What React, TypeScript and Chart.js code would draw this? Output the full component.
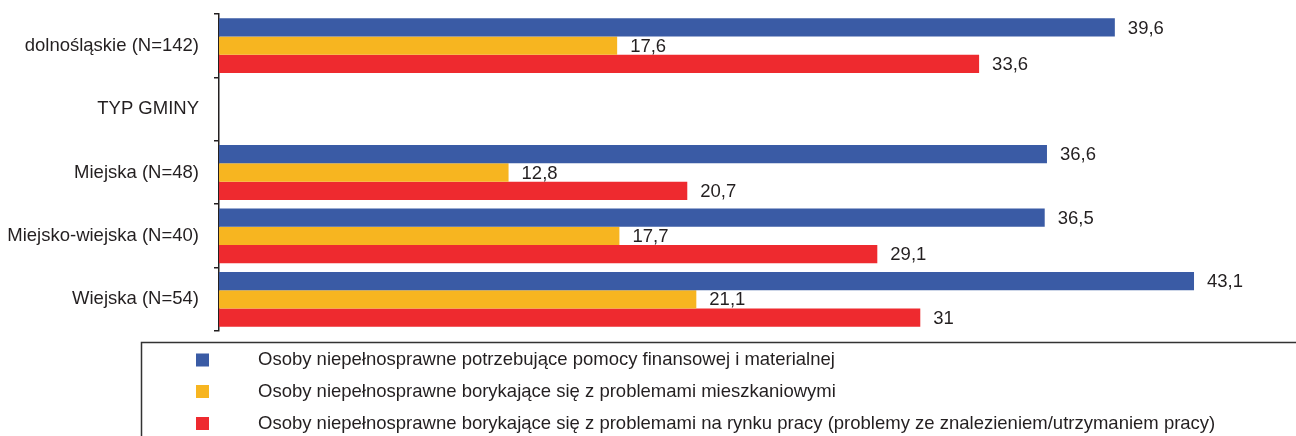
import React, { useEffect, useRef } from "react";
import { Chart, registerables } from "chart.js";

Chart.register(...registerables);

const categories = [
  "dolnośląskie (N=142)",
  "TYP GMINY",
  "Miejska (N=48)",
  "Miejsko-wiejska (N=40)",
  "Wiejska (N=54)",
];
const seriesNames = [
  "Osoby niepełnosprawne potrzebujące pomocy finansowej i materialnej",
  "Osoby niepełnosprawne borykające się z problemami mieszkaniowymi",
  "Osoby niepełnosprawne borykające się z problemami na rynku pracy (problemy ze znalezieniem/utrzymaniem pracy)",
];
const financial = [39.6, null, 36.6, 36.5, 43.1];
const housing = [17.6, null, 12.8, 17.7, 21.1];
const labour = [33.6, null, 20.7, 29.1, 31];
const colors = ["#3A5BA5", "#F7B520", "#EE2A2F"];

const FONT = "'Liberation Sans', Arial, Helvetica, sans-serif";
const TEXT = "#231F20";
const FS = 18.5;

const valueLabels = {
  id: "valueLabels",
  afterDatasetsDraw(chart: any) {
    const ctx = chart.ctx;
    ctx.save();
    ctx.font = `${FS}px ${FONT}`;
    ctx.fillStyle = TEXT;
    ctx.textBaseline = "middle";
    ctx.textAlign = "left";
    chart.data.datasets.forEach((ds: any, i: number) => {
      const meta = chart.getDatasetMeta(i);
      meta.data.forEach((bar: any, j: number) => {
        const v = ds.data[j];
        if (v === null || v === undefined) return;
        ctx.fillText(String(v).replace(".", ","), bar.x + 13, bar.y + 1);
      });
    });
    ctx.restore();
  },
};

const boxLegend = {
  id: "boxLegend",
  afterDraw(chart: any) {
    const ctx = chart.ctx;
    ctx.save();
    ctx.strokeStyle = "#333";
    ctx.lineWidth = 1.5;
    ctx.strokeRect(141.5, 342.5, 1300, 200);
    ctx.font = `${FS}px ${FONT}`;
    ctx.textBaseline = "middle";
    ctx.textAlign = "left";
    const rows = [360, 391.5, 423.5];
    chart.data.datasets.forEach((ds: any, i: number) => {
      ctx.fillStyle = ds.backgroundColor;
      ctx.fillRect(196, rows[i] - 6.5, 13, 13);
      ctx.fillStyle = TEXT;
      ctx.fillText(ds.label, 258, rows[i]);
    });
    ctx.restore();
  },
};

export default function App() {
  const ref = useRef<HTMLCanvasElement>(null);
  useEffect(() => {
    document.body.style.margin = "0";
    const chart = new Chart(ref.current!, {
      type: "bar",
      data: {
        labels: categories,
        datasets: [financial, housing, labour].map((d, i) => ({
          label: seriesNames[i],
          data: d,
          backgroundColor: colors[i],
          borderWidth: 0,
          categoryPercentage: 0.865,
          barPercentage: 1,
        })),
      },
      options: {
        indexAxis: "y",
        animation: false,
        responsive: false,
        layout: { padding: { top: 14, bottom: 105, right: 59, left: 0 } },
        plugins: {
          legend: { display: false },
          tooltip: { enabled: false },
        },
        scales: {
          x: { display: false, min: 0, max: 45 },
          y: {
            afterFit: (scale: any) => {
              scale.width = 219;
              scale.paddingTop = 0;
              scale.paddingBottom = 0;
            },
            grid: {
              display: true,
              drawOnChartArea: false,
              drawTicks: true,
              tickLength: 5,
              color: TEXT,
              lineWidth: 1.5,
              offset: true,
            },
            border: { display: true, color: TEXT, width: 1.5 },
            ticks: {
              color: TEXT,
              padding: 15,
              font: { family: FONT, size: FS },
            },
          },
        },
      },
      plugins: [valueLabels, boxLegend],
    } as any);
    return () => chart.destroy();
  }, []);
  return <canvas ref={ref} width={1296} height={436} style={{ display: "block" }} />;
}
